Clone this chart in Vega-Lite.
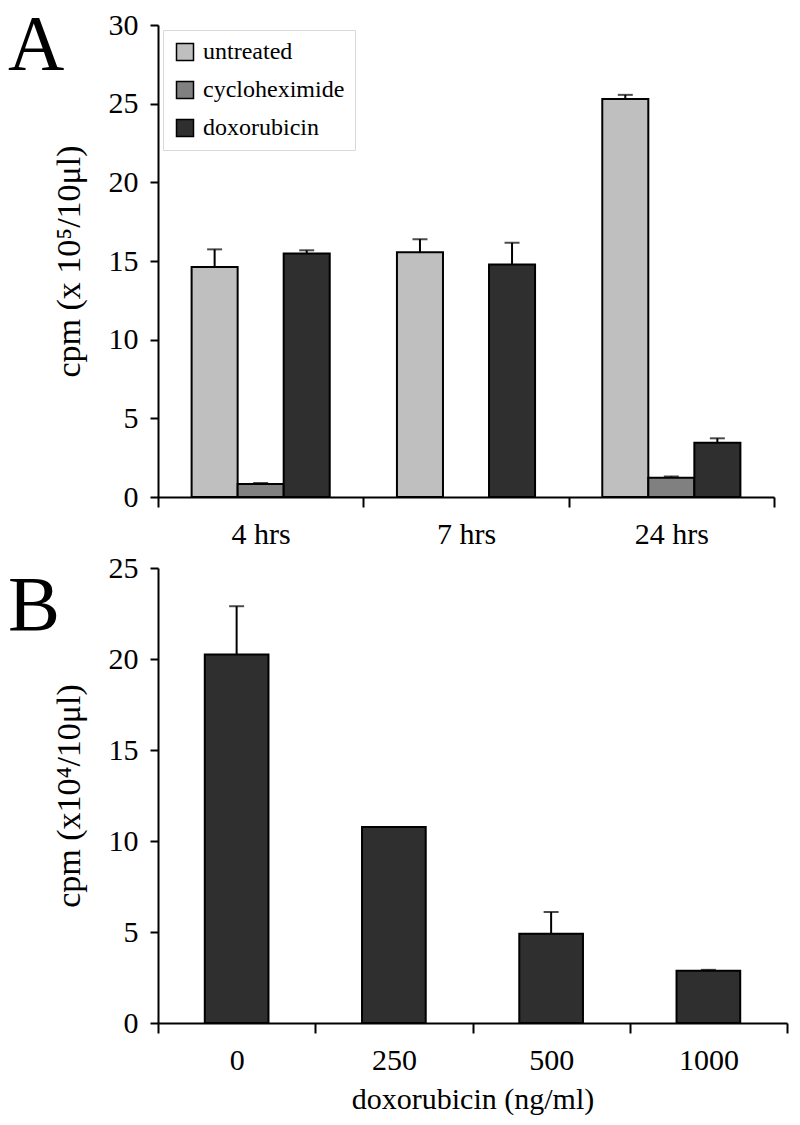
{
  "$schema": "https://vega.github.io/schema/vega-lite/v6.json",
  "background": "white",
  "padding": {"left": 8, "top": 7, "right": 5, "bottom": 5},
  "spacing": 4,
  "config": {
    "view": {"stroke": null},
    "font": "Liberation Serif",
    "axis": {
      "labelFont": "Liberation Serif", "labelFontSize": 30, "labelColor": "black",
      "titleFont": "Liberation Serif", "titleFontSize": 30, "titleFontWeight": "normal", "titleColor": "black",
      "domainColor": "black", "domainWidth": 2, "tickColor": "black", "tickWidth": 2, "tickSize": 8,
      "grid": false
    },
    "title": {"font": "Liberation Serif", "fontWeight": "normal", "color": "black"}
  },
  "datasets": {
    "a": [
      {"time": "4 hrs", "treatment": "untreated", "cpm": 14.62, "hi": 15.74},
      {"time": "4 hrs", "treatment": "cycloheximide", "cpm": 0.83, "hi": 0.89},
      {"time": "4 hrs", "treatment": "doxorubicin", "cpm": 15.48, "hi": 15.68},
      {"time": "7 hrs", "treatment": "untreated", "cpm": 15.55, "hi": 16.39},
      {"time": "7 hrs", "treatment": "doxorubicin", "cpm": 14.77, "hi": 16.16},
      {"time": "24 hrs", "treatment": "untreated", "cpm": 25.3, "hi": 25.56},
      {"time": "24 hrs", "treatment": "cycloheximide", "cpm": 1.23, "hi": 1.31},
      {"time": "24 hrs", "treatment": "doxorubicin", "cpm": 3.45, "hi": 3.73}
    ],
    "b": [
      {"dose": "0", "cpm": 20.25, "hi": 22.9},
      {"dose": "250", "cpm": 10.77, "hi": null},
      {"dose": "500", "cpm": 4.9, "hi": 6.1},
      {"dose": "1000", "cpm": 2.87, "hi": 2.92}
    ]
  },
  "vconcat": [
    {
      "width": 616,
      "height": 472,
      "title": {"text": "A", "anchor": "start", "frame": "group", "fontSize": 78, "dx": -150, "dy": 75, "offset": 0},
      "data": {"name": "a"},
      "encoding": {
        "x": {"field": "time", "type": "nominal", "sort": ["4 hrs", "7 hrs", "24 hrs"],
              "scale": {"paddingInner": 0, "paddingOuter": 0},
              "axis": {"title": null, "labelAngle": 0, "tickBand": "extent", "tickSize": 10, "labelPadding": 12}},
        "xOffset": {"field": "treatment", "type": "nominal", "sort": ["untreated", "cycloheximide", "doxorubicin"],
                    "scale": {"paddingInner": 0, "paddingOuter": 0.73}}
      },
      "layer": [
        {
          "mark": {"type": "bar", "stroke": "black", "strokeWidth": 2},
          "encoding": {
            "y": {"field": "cpm", "type": "quantitative", "scale": {"domain": [0, 30], "nice": false},
                  "axis": {"values": [0, 5, 10, 15, 20, 25, 30], "title": "cpm (x 10⁵/10μl)", "titleFontSize": 34, "titlePadding": 22, "labelPadding": 12}},
            "color": {"field": "treatment", "type": "nominal", "sort": ["untreated", "cycloheximide", "doxorubicin"],
                      "scale": {"domain": ["untreated", "cycloheximide", "doxorubicin"], "range": ["#bfbfbf", "#808080", "#2f2f2f"]},
                      "legend": {"title": null, "orient": "none", "legendX": 5, "legendY": 5,
                                 "strokeColor": "#d9d9d9", "fillColor": "white", "padding": 10,
                                 "symbolType": "square", "symbolSize": 289, "symbolStrokeColor": "black", "symbolStrokeWidth": 1.5,
                                 "symbolOpacity": 1, "labelFont": "Liberation Serif", "labelFontSize": 24, "labelColor": "black",
                                 "rowPadding": 14, "labelOffset": 6, "labelLimit": 300}}
          }
        },
        {
          "mark": {"type": "rule", "color": "black", "strokeWidth": 2},
          "encoding": {"y": {"field": "cpm", "type": "quantitative"}, "y2": {"field": "hi"}}
        },
        {
          "mark": {"type": "tick", "color": "black", "thickness": 2, "size": 15, "orient": "horizontal"},
          "encoding": {"y": {"field": "hi", "type": "quantitative"}}
        }
      ]
    },
    {
      "width": 629,
      "height": 455,
      "title": {"text": "B", "anchor": "start", "frame": "group", "fontSize": 78, "dx": -150, "dy": 93, "offset": 0},
      "data": {"name": "b"},
      "encoding": {
        "x": {"field": "dose", "type": "nominal", "sort": ["0", "250", "500", "1000"],
              "scale": {"paddingInner": 0, "paddingOuter": 0},
              "axis": {"title": "doxorubicin (ng/ml)", "labelAngle": 0, "tickBand": "extent", "tickSize": 10, "labelPadding": 12, "titlePadding": 9}}
      },
      "layer": [
        {
          "mark": {"type": "bar", "stroke": "black", "strokeWidth": 2, "fill": "#2f2f2f", "width": {"band": 0.405}},
          "encoding": {
            "y": {"field": "cpm", "type": "quantitative", "scale": {"domain": [0, 25], "nice": false},
                  "axis": {"values": [0, 5, 10, 15, 20, 25], "title": "cpm (x10⁴/10μl)", "titleFontSize": 34, "titlePadding": 22, "labelPadding": 12}}
          }
        },
        {
          "mark": {"type": "rule", "color": "black", "strokeWidth": 2},
          "encoding": {"y": {"field": "cpm", "type": "quantitative"}, "y2": {"field": "hi"}}
        },
        {
          "mark": {"type": "tick", "color": "black", "thickness": 2, "size": 15, "orient": "horizontal"},
          "encoding": {"y": {"field": "hi", "type": "quantitative"}}
        }
      ]
    }
  ]
}
